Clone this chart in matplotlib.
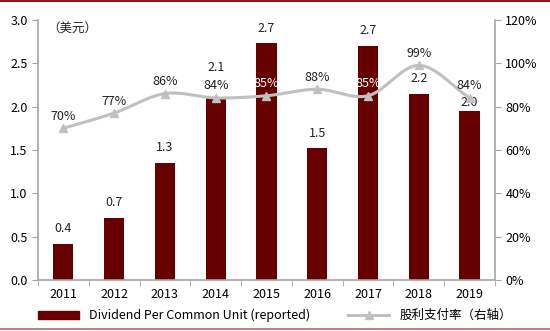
import numpy as np
import matplotlib
matplotlib.use("Agg")
import matplotlib.pyplot as plt
from matplotlib.lines import Line2D

plt.rcParams['font.family'] = ['Noto Sans CJK SC', 'DejaVu Sans']

# --- data ---
years = ['2011', '2012', '2013', '2014', '2015', '2016', '2017', '2018', '2019']
dividend = [0.42, 0.72, 1.35, 2.10, 2.73, 1.52, 2.70, 2.15, 1.95]
dividend_labels = ['0.4', '0.7', '1.3', '2.1', '2.7', '1.5', '2.7', '2.2', '2.0']
payout = [70, 77, 86, 84, 85, 88, 85, 99, 84]

bar_color = '#660000'
line_color = '#C0C0C0'
axis_color = '#A6A6A6'
text_color = '#222222'

fig = plt.figure(figsize=(5.5, 3.31), dpi=100)
ax = fig.add_axes([0.069, 0.154, 0.831, 0.786])
ax2 = ax.twinx()
ax.set_zorder(1)
ax2.set_zorder(2)

x = np.arange(len(years))
ax.bar(x, dividend, width=0.4, color=bar_color, zorder=2)


# smooth curve through the points (rendering only)
def catmull(xs, ys, n=20):
    xs = np.asarray(xs, float)
    ys = np.asarray(ys, float)
    px = np.concatenate([[2*xs[0]-xs[1]], xs, [2*xs[-1]-xs[-2]]])
    py = np.concatenate([[2*ys[0]-ys[1]], ys, [2*ys[-1]-ys[-2]]])
    ox, oy = [], []
    t = np.linspace(0, 1, n)
    for i in range(1, len(px)-2):
        for p, out in ((px, ox), (py, oy)):
            p0, p1, p2, p3 = p[i-1], p[i], p[i+1], p[i+2]
            out.extend(0.5*((2*p1) + (-p0+p2)*t + (2*p0-5*p1+4*p2-p3)*t**2
                            + (-p0+3*p1-3*p2+p3)*t**3))
    return ox, oy


sx, sy = catmull(x, payout)
ax2.plot(sx, sy, color=line_color, lw=2.2, zorder=3)
ax2.plot(x, payout, ls='none', marker='^', ms=6, color=line_color, zorder=4)

# percent labels above the markers
for xi, p in zip(x, payout):
    col = 'white' if p == 85 else text_color
    ax2.text(xi, p + 2.5, f'{p}%', ha='center', va='bottom', fontsize=9,
             color=col, zorder=5)

# bar value labels (a couple of them moved to dodge the percent labels)
for xi, v, lab, yr in zip(x, dividend, dividend_labels, years):
    if yr == '2014':
        y = v + 0.27
    elif yr == '2019':
        y = v + 0.02
    else:
        y = v + 0.10
    ax.text(xi, y, lab, ha='center', va='bottom', fontsize=9, color=text_color)

ax.set_xlim(-0.47, 8.47)
ax.set_ylim(0, 3.0)
ax2.set_ylim(0, 120)
ax.set_yticks(np.arange(0, 3.01, 0.5))
ax.set_yticklabels([f'{v:.1f}' for v in np.arange(0, 3.01, 0.5)])
ax2.set_yticks(np.arange(0, 121, 20))
ax2.set_yticklabels([f'{v}%' for v in range(0, 121, 20)])
ax.set_xticks(x)
ax.set_xticklabels(years)
ax.set_xticks(np.arange(-0.5, 9, 1), minor=True)
ax.tick_params(axis='x', which='major', length=0, labelsize=9, pad=6)
ax.tick_params(axis='x', which='minor', length=4, color=axis_color)
ax.tick_params(axis='y', length=4, color=axis_color, labelsize=9)
ax2.tick_params(axis='y', length=4, color=axis_color, labelsize=9)

for a in (ax, ax2):
    a.spines['top'].set_visible(False)
    for s in ('left', 'right', 'bottom'):
        a.spines[s].set_color(axis_color)
        a.spines[s].set_linewidth(1.2)
ax.spines['right'].set_visible(False)
ax2.spines['left'].set_visible(False)
ax2.spines['bottom'].set_visible(False)

ax.text(-0.32, 2.98, '（美元）', ha='left', va='top', fontsize=9, color=text_color)

handles = [plt.Rectangle((0, 0), 1, 1, color=bar_color),
           Line2D([], [], color=line_color, lw=2.2, marker='^', ms=6)]
fig.legend(handles, ['Dividend Per Common Unit (reported)', '股利支付率（右轴）'],
           loc='lower center', bbox_to_anchor=(0.5, 0.0), ncol=2, frameon=False,
           fontsize=9, handlelength=3.3, columnspacing=3, borderaxespad=0.3)

fig.add_artist(Line2D([0, 1], [0.996, 0.996], color='#8B1A1A', lw=1.5))
fig.add_artist(Line2D([0, 1], [0.006, 0.006], color='#C08080', lw=1.5))

fig.savefig('out.png', dpi=100)
